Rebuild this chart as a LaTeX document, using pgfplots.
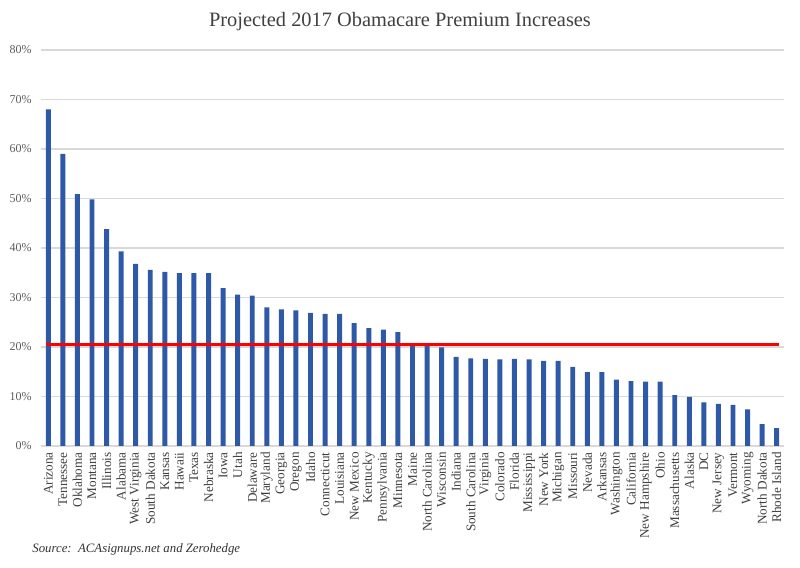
\documentclass[border=0pt]{standalone}
\usepackage{pgfplots}
\pgfplotsset{compat=1.18}
\usepackage{fontspec}
\setmainfont{Liberation Serif}

\definecolor{barblue}{RGB}{46,89,167}
\definecolor{labelgray}{RGB}{64,64,64}
\definecolor{gridgray}{RGB}{217,217,217}

\begin{document}
\begin{tikzpicture}
\useasboundingbox (0,0) rectangle (400pt,284pt);
\begin{axis}[
    at={(20.5pt,61pt)}, anchor=south west,
    scale only axis,
    width=371.5pt, height=198pt,
    xmin=-0.5, xmax=50.5,
    ymin=0, ymax=80,
    ytick={0,10,...,80},
    yticklabel={\pgfmathprintnumber{\tick}\%},
    /pgf/number format/assume math mode=true,
    ymajorgrids,
    grid style={gridgray, line width=0.6pt},
    axis line style={draw=none},
    major tick length=0pt,
    yticklabel style={font=\fontsize{6}{7}\selectfont, text=labelgray!85, inner sep=0pt, xshift=-4.5pt},
    xtick={0,...,50},
    xticklabels={Arizona,Tennessee,Oklahoma,Montana,Illinois,Alabama,West Virginia,South Dakota,Kansas,Hawaii,Texas,Nebraska,Iowa,Utah,Delaware,Maryland,Georgia,Oregon,Idaho,Connecticut,Louisiana,New Mexico,Kentucky,Pennsylvania,Minnesota,Maine,North Carolina,Wisconsin,Indiana,South Carolina,Virginia,Colorado,Florida,Mississippi,New York,Michigan,Missouri,Nevada,Arkansas,Washington,California,New Hampshire,Ohio,Massachusetts,Alaska,DC,New Jersey,Vermont,Wyoming,North Dakota,Rhode Island},
    xticklabel style={rotate=90, anchor=east, inner sep=0pt, yshift=0pt, xshift=0pt, font=\fontsize{6.6}{7}\selectfont, text=labelgray},
    xticklabel shift=3pt,
]
\addplot[ybar, bar width=0.34, fill=barblue, draw=none] coordinates {
    (0,68.0) (1,59.0) (2,50.9) (3,49.8) (4,43.8) (5,39.3) (6,36.8) (7,35.6)
    (8,35.2) (9,34.9) (10,34.9) (11,34.9) (12,31.9) (13,30.6) (14,30.4)
    (15,28.0) (16,27.6) (17,27.4) (18,26.9) (19,26.7) (20,26.7) (21,24.8)
    (22,23.8) (23,23.5) (24,23.0) (25,20.3) (26,20.3) (27,19.9) (28,18.0)
    (29,17.7) (30,17.6) (31,17.5) (32,17.6) (33,17.5) (34,17.2) (35,17.2)
    (36,16.0) (37,14.9) (38,14.9) (39,13.4) (40,13.1) (41,13.0) (42,13.0)
    (43,10.3) (44,9.9) (45,8.8) (46,8.5) (47,8.3) (48,7.4) (49,4.4) (50,3.6)
};
\addplot[red, line width=1.5pt, mark=none] coordinates {(-0.17,20.5) (50.17,20.5)};
\end{axis}
\node[text=labelgray, font=\fontsize{10.2}{12}\selectfont] at (200pt,273pt) {Projected 2017 Obamacare Premium Increases};
\node[anchor=west, inner sep=0pt, text=labelgray!80!black, font=\fontsize{6.4}{8}\selectfont\itshape] at (16pt,9.5pt) {Source:\ \ ACAsignups.net and Zerohedge};
\end{tikzpicture}
\end{document}
